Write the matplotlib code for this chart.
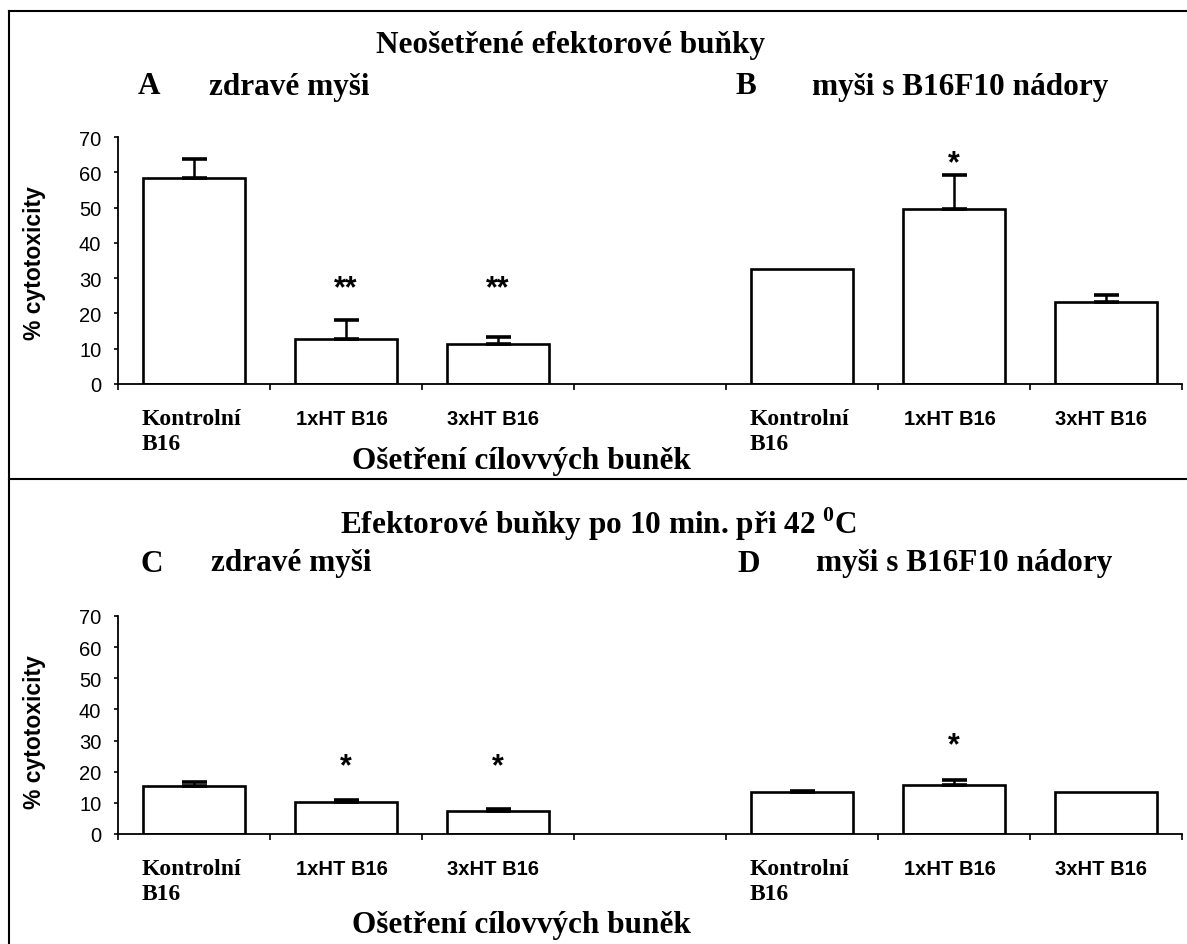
import numpy as np
import matplotlib
matplotlib.use("Agg")
import matplotlib.pyplot as plt

# cytotoxicity data (% cytotoxicity, mean and upper error)
groups = ["Kontrolní\nB16", "1xHT B16", "3xHT B16"]

# top panel: untreated effector cells
a_mean = [58.4, 12.8, 11.4]     # A healthy mice
a_err = [5.3, 5.4, 2.0]
a_star = ["", "**", "**"]
b_mean = [32.6, 49.7, 23.2]     # B mice with B16F10 tumours
b_err = [0.0, 9.4, 1.9]
b_star = ["", "*", ""]

# bottom panel: effector cells after 10 min at 42 C
c_mean = [15.3, 10.4, 7.4]
c_err = [1.3, 0.6, 0.5]
c_star = ["", "*", "*"]
d_mean = [13.4, 15.6, 13.4]
d_err = [0.4, 1.6, 0.0]
d_star = ["", "*", ""]

# height of the significance marks (left group, left group, right group)
star_y_top = [27.0, 27.0, 62.6]
star_y_bot = [21.8, 21.8, 28.6]

serif = "Liberation Serif"
sans = "Liberation Sans"
plt.rcParams["mathtext.fontset"] = "custom"
plt.rcParams["mathtext.bf"] = "Liberation Serif:bold"

W, H = 1187, 945
fig = plt.figure(figsize=(W / 100, H / 100), dpi=100)


def px(x, y):
    # pixel position -> figure fraction
    return x / W, 1 - y / H


def draw_panel(ax, left, right, stars, star_y):
    pos_l = np.arange(3) + 0.5
    pos_r = np.arange(3) + 4.5
    width = 0.67
    for pos, (mean, err) in zip([pos_l, pos_r], [left, right]):
        ax.bar(pos, mean, width, color="white", edgecolor="black", linewidth=1.9, zorder=2)
        err = np.array(err)
        keep = err > 0
        ax.errorbar(pos[keep], np.array(mean)[keep], yerr=[np.zeros(keep.sum()), err[keep]],
                    fmt="none", ecolor="black", elinewidth=1.8, capsize=9, capthick=2.6, zorder=3)
    # significance stars
    allpos = list(pos_l) + list(pos_r)
    for i, s in enumerate(stars[0] + stars[1]):
        if s:
            yv = star_y[0] if i < 3 else star_y[2]
            ax.text(allpos[i], yv, s, ha="center", va="center", fontsize=22,
                    fontweight="bold", family=sans)
    # category labels under the bars
    for pos in (pos_l, pos_r):
        for i, name in enumerate(groups):
            if i == 0:
                ax.annotate(name, xy=(pos[i] - width / 2 - 0.01, 0),
                            xycoords=("data", "axes fraction"), xytext=(0, -17),
                            textcoords="offset points", ha="left", va="top",
                            fontsize=17, fontweight="bold", family=serif, linespacing=1.25)
            else:
                ax.annotate(name, xy=(pos[i] - 0.03, 0),
                            xycoords=("data", "axes fraction"), xytext=(0, -18),
                            textcoords="offset points", ha="center", va="top",
                            fontsize=14.5, fontweight="bold", family=sans)
    ax.set_xlim(0, 7)
    ax.set_ylim(0, 70)
    ax.set_xticks(np.arange(8))
    ax.set_xticklabels([])
    ax.set_yticks(np.arange(0, 71, 10))
    ax.tick_params(axis="y", direction="out", length=3, width=1.2, pad=9, labelsize=14.5)
    ax.tick_params(axis="x", direction="out", length=4, width=1.2)
    for lab in ax.get_yticklabels():
        lab.set_family(sans)
    ax.spines["top"].set_visible(False)
    ax.spines["right"].set_visible(False)
    ax.spines["left"].set_linewidth(1.3)
    ax.spines["bottom"].set_linewidth(1.3)
    ax.set_ylabel("% cytotoxicity", fontsize=16.5, fontweight="bold", family=sans)


# top axes
x0, y0 = px(118, 385)
x1, y1 = px(1182, 138)
ax1 = fig.add_axes([x0, y0, x1 - x0, y1 - y0])
draw_panel(ax1, (a_mean, a_err), (b_mean, b_err), (a_star, b_star), star_y_top)
ax1.yaxis.set_label_coords(-0.068, 0.494)

# bottom axes
x0, y0 = px(118, 835)
x1, y1 = px(1182, 617)
ax2 = fig.add_axes([x0, y0, x1 - x0, y1 - y0])
draw_panel(ax2, (c_mean, c_err), (d_mean, d_err), (c_star, d_star), star_y_bot)
ax2.yaxis.set_label_coords(-0.068, 0.47)

# frame lines
fig.add_artist(plt.Line2D([9 / W, 9 / W], [0, 1 - 12 / H], color="black", lw=1.5))
fig.add_artist(plt.Line2D([9 / W, 1], [1 - 12 / H, 1 - 12 / H], color="black", lw=1.5))
fig.add_artist(plt.Line2D([9 / W, 1], [1 - 480 / H, 1 - 480 / H], color="black", lw=1.5))

big = dict(fontsize=22.5, fontweight="bold", family=serif, va="center")

fig.text(*px(570, 46), "Neošetřené efektorové buňky", ha="center", **big)
fig.text(*px(138, 87), "A", ha="left", **big)
fig.text(*px(209, 87), "zdravé myši", ha="left", **big)
fig.text(*px(735, 87), "B", ha="left", **big)
fig.text(*px(812, 87), "myši s B16F10 nádory", ha="left", **big)
fig.text(*px(352, 462), "Ošetření cílovvých buněk", ha="left", **big)

fig.text(*px(598, 524), r"Efektorové buňky po 10 min. při 42 $^{\mathbf{0}}$C", ha="center", **big)
fig.text(*px(141, 564), "C", ha="left", **big)
fig.text(*px(211, 564), "zdravé myši", ha="left", **big)
fig.text(*px(737, 564), "D", ha="left", **big)
fig.text(*px(816, 564), "myši s B16F10 nádory", ha="left", **big)
fig.text(*px(352, 926), "Ošetření cílovvých buněk", ha="left", **big)

fig.savefig("out.png", dpi=100)
